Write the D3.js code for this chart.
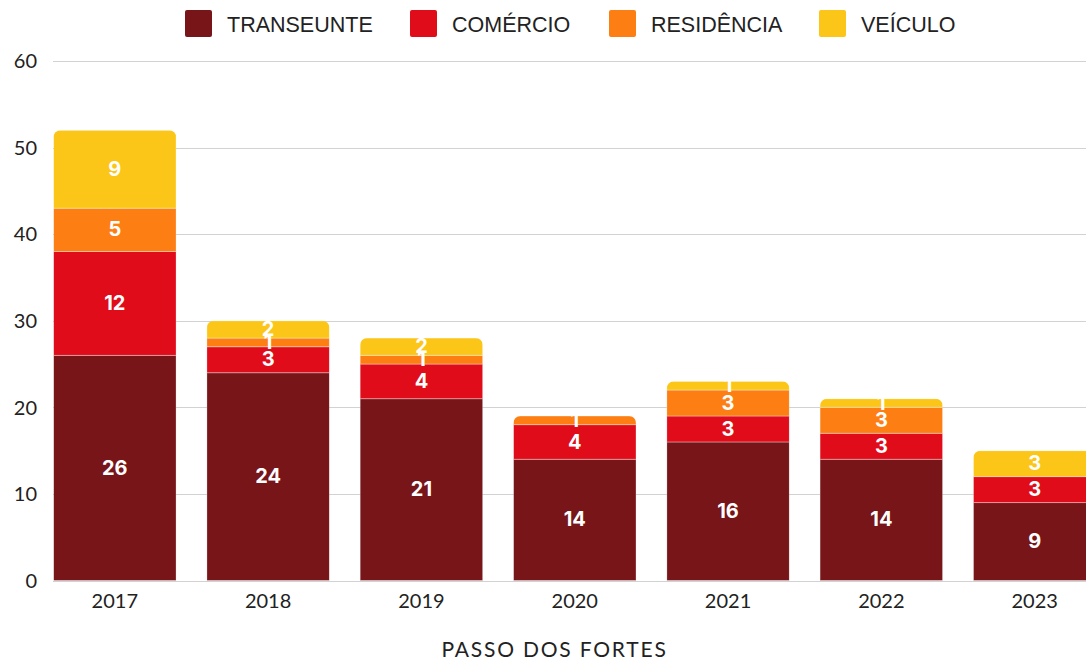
<!DOCTYPE html>
<html>
<head>
<meta charset="utf-8">
<script src="https://cdn.jsdelivr.net/npm/d3@7"></script>
<style>
  html, body { margin: 0; padding: 0; background: #fff; }
  svg { display: block; }
</style>
</head>
<body>
<svg id="chart" width="1086" height="661"></svg>
<script>
// Ocorrências por ano — Passo dos Fortes
const years = ["2017", "2018", "2019", "2020", "2021", "2022", "2023"];
const seriesNames = ["TRANSEUNTE", "COMÉRCIO", "RESIDÊNCIA", "VEÍCULO"];
const transeunte = [26, 24, 21, 14, 16, 14, 9];
const comercio   = [12, 3, 4, 4, 3, 3, 3];
const residencia = [5, 1, 1, 1, 3, 3, 0];
const veiculo    = [9, 2, 2, 0, 1, 1, 3];
const yTicks = [0, 10, 20, 30, 40, 50, 60];
const xTitle = "PASSO DOS FORTES";

const colors = ["#771518", "#e00c19", "#fd7f13", "#fcc619"];

const rows = years.map((yr, i) => ({
  year: yr,
  TRANSEUNTE: transeunte[i],
  "COMÉRCIO": comercio[i],
  "RESIDÊNCIA": residencia[i],
  "VEÍCULO": veiculo[i]
}));

const svg = d3.select("#chart");
const axisFont = "Lato, 'Noto Sans', sans-serif";

const x = d3.scaleBand()
  .domain(years)
  .range([53.5, 1096])
  .paddingInner(0.2)
  .paddingOuter(0);

const y = d3.scaleLinear()
  .domain([0, 60])
  .range([580.5, 61]);

const color = d3.scaleOrdinal().domain(seriesNames).range(colors);

// horizontal gridlines
svg.append("g")
  .selectAll("line")
  .data(yTicks)
  .join("line")
  .attr("x1", 53)
  .attr("x2", 1086)
  .attr("y1", d => Math.round(y(d)) + 0.5)
  .attr("y2", d => Math.round(y(d)) + 0.5)
  .attr("stroke", "#d2d2d2")
  .attr("stroke-width", 1.2);

// y tick labels
svg.append("g")
  .selectAll("text")
  .data(yTicks)
  .join("text")
  .attr("x", 37)
  .attr("y", d => y(d))
  .attr("dy", "0.36em")
  .attr("text-anchor", "end")
  .attr("font-family", axisFont)
  .attr("font-size", 20)
  .attr("fill", "#222")
  .text(d => d);

// stacked bars
const stacked = d3.stack().keys(seriesNames)(rows);
const totals = rows.map(r => d3.sum(seriesNames, k => r[k]));

const defs = svg.append("defs");
years.forEach((yr, i) => {
  defs.append("clipPath")
    .attr("id", "clip-" + yr)
    .append("rect")
    .attr("x", x(yr))
    .attr("y", y(totals[i]))
    .attr("width", x.bandwidth())
    .attr("height", y(0) - y(totals[i]) + 10)
    .attr("rx", 7);
});

const barGroups = svg.append("g")
  .selectAll("g")
  .data(years)
  .join("g")
  .attr("clip-path", d => `url(#clip-${d})`);

barGroups.each(function(yr, i) {
  const g = d3.select(this);
  stacked.forEach(layer => {
    const d = layer[i];
    if (d[1] - d[0] <= 0) return;
    g.append("rect")
      .attr("x", x(yr))
      .attr("y", y(d[1]))
      .attr("width", x.bandwidth())
      .attr("height", y(d[0]) - y(d[1]))
      .attr("fill", color(layer.key))
      .attr("stroke", "rgba(255,255,255,0.35)")
      .attr("stroke-width", 1);
  });
});

// value labels
const labelData = [];
stacked.forEach(layer => {
  layer.forEach((d, i) => {
    const v = d[1] - d[0];
    if (v > 0) labelData.push({ year: years[i], v, mid: (d[0] + d[1]) / 2 });
  });
});

svg.append("g")
  .selectAll("text")
  .data(labelData)
  .join("text")
  .attr("x", d => x(d.year) + x.bandwidth() / 2)
  .attr("y", d => y(d.mid))
  .attr("dy", "0.33em")
  .attr("text-anchor", "middle")
  .attr("font-family", "Inter, 'Noto Sans', sans-serif")
  .attr("font-weight", 700)
  .attr("font-size", 20)
  .attr("fill", "#fff")
  .text(d => d.v);

// x axis labels
svg.append("g")
  .selectAll("text")
  .data(years)
  .join("text")
  .attr("x", d => x(d) + x.bandwidth() / 2)
  .attr("y", 601)
  .attr("dy", "0.36em")
  .attr("text-anchor", "middle")
  .attr("font-family", axisFont)
  .attr("font-size", 20)
  .attr("fill", "#222")
  .text(d => d);

// x axis title
svg.append("text")
  .attr("x", 554.5)
  .attr("y", 649)
  .attr("dy", "0.36em")
  .attr("text-anchor", "middle")
  .attr("font-family", axisFont)
  .attr("font-size", 21)
  .attr("letter-spacing", 1.8)
  .attr("fill", "#222")
  .text(xTitle);

// legend
const legendX = [185, 410, 609, 819];
const legend = svg.append("g")
  .selectAll("g")
  .data(seriesNames)
  .join("g")
  .attr("transform", (d, i) => `translate(${legendX[i]}, 10)`);

legend.append("rect")
  .attr("width", 27)
  .attr("height", 27)
  .attr("rx", 2)
  .attr("fill", d => color(d));

legend.append("text")
  .attr("x", 42)
  .attr("y", 14.5)
  .attr("dy", "0.36em")
  .attr("font-family", "'Liberation Sans', Arial, sans-serif")
  .attr("font-size", 21.5)
  .attr("fill", "#222")
  .text(d => d);
</script>
</body>
</html>
